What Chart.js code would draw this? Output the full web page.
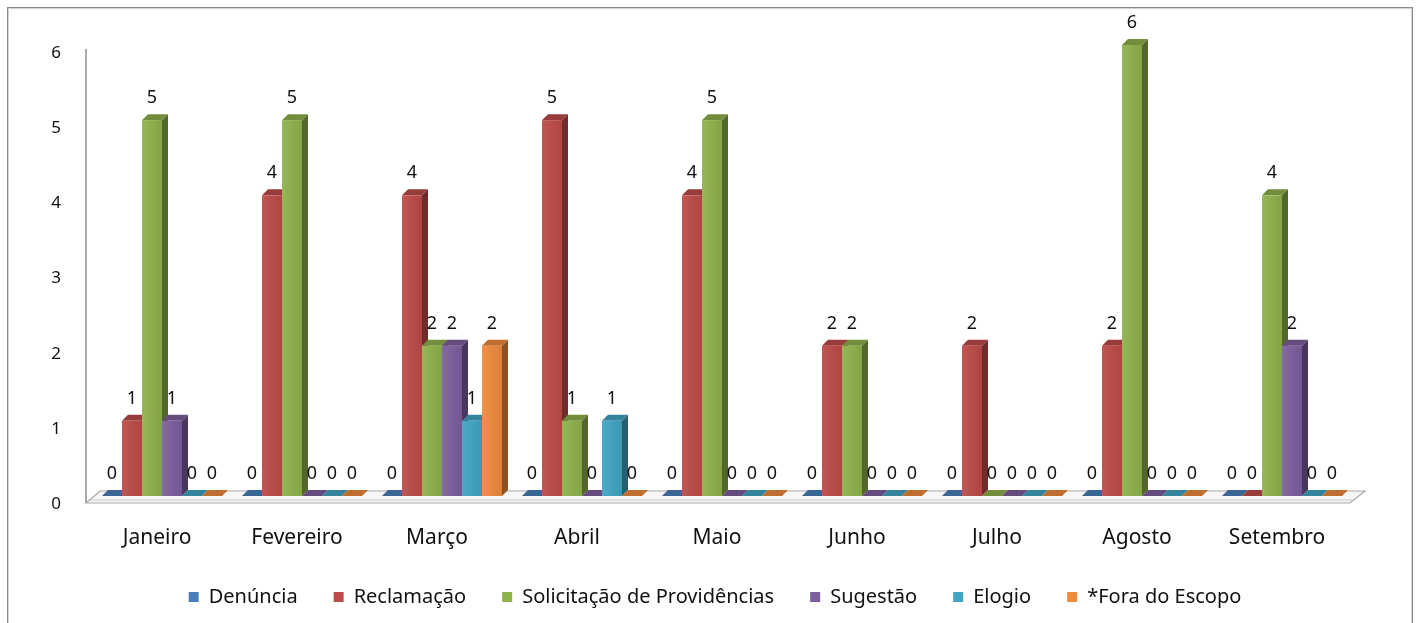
<!DOCTYPE html>
<html>
<head>
<meta charset="utf-8">
<script src="https://cdn.jsdelivr.net/npm/chart.js@4"></script>
<style>
html,body{margin:0;padding:0;background:#fff;overflow:hidden;}
#wrap{position:absolute;left:0;top:0;width:1419px;height:623px;}
#frame{position:absolute;left:7px;top:7px;width:1404px;height:640px;border:1px solid #8a8a8a;box-shadow:inset 0 0 0 1px #d4d4d4;pointer-events:none;}
</style>
</head>
<body>
<div id="wrap"><canvas id="grafico"></canvas></div>
<div id="frame"></div>
<script>
// dados
const meses = ['Janeiro','Fevereiro','Março','Abril','Maio','Junho','Julho','Agosto','Setembro'];
const denuncia    = [0,0,0,0,0,0,0,0,0];
const reclamacao  = [1,4,4,5,4,2,2,2,0];
const solicitacao = [5,5,2,1,5,2,0,6,4];
const sugestao    = [1,0,2,0,0,0,0,0,2];
const elogio      = [0,0,1,1,0,0,0,0,0];
const foraEscopo  = [0,0,2,0,0,0,0,0,0];
const series = ['Denúncia','Reclamação','Solicitação de Providências','Sugestão','Elogio','*Fora do Escopo'];
const eixoY = [0,1,2,3,4,5,6];

const cores = ['#4a7eba','#bd4b48','#8eb24a','#7d5f9f','#40a5c3','#f08a3c'];
const valores = [denuncia,reclamacao,solicitacao,sugestao,elogio,foraEscopo];

const fonte = "'Noto Sans', 'Open Sans', sans-serif";

function tom(hex, f){
  const n = parseInt(hex.slice(1),16);
  let r=(n>>16)&255, g=(n>>8)&255, b=n&255;
  if(f<1){ r*=f; g*=f; b*=f; }
  else { r=r+(255-r)*(f-1); g=g+(255-g)*(f-1); b=b+(255-b)*(f-1); }
  return 'rgb('+Math.round(r)+','+Math.round(g)+','+Math.round(b)+')';
}

const D = 6; // profundidade 3D

// chão e eixo vertical
const fundo3d = {
  id:'fundo3d',
  beforeDatasetsDraw(chart){
    const ctx = chart.ctx, a = chart.chartArea;
    const y0 = chart.scales.y.getPixelForValue(0);
    ctx.save();
    ctx.strokeStyle='#8c8c8c'; ctx.lineWidth=1.5;
    ctx.beginPath();
    ctx.moveTo(86, a.top+4); ctx.lineTo(86, y0+7);
    ctx.stroke();
    ctx.fillStyle='#f6f6f6';
    ctx.strokeStyle='#a8a8a8'; ctx.lineWidth=1.2;
    ctx.beginPath();
    ctx.moveTo(86, y0+7); ctx.lineTo(a.right-2, y0+7);
    ctx.lineTo(a.right+13, y0-5); ctx.lineTo(100, y0-5); ctx.closePath();
    ctx.fill(); ctx.stroke();
    ctx.strokeStyle='#c8c8c8';
    ctx.beginPath(); ctx.moveTo(88, y0+4); ctx.lineTo(a.right, y0+4); ctx.stroke();
    ctx.restore();
  }
};

// barras 3D + rótulos
const barras3d = {
  id:'barras3d',
  beforeDatasetDraw(){ return false; },
  afterDatasetsDraw(chart){
    const ctx = chart.ctx;
    const n = chart.data.labels.length;
    const ds = chart.data.datasets;
    ctx.save();
    for(let j=0;j<n;j++){
      for(let i=0;i<ds.length;i++){
        const el = chart.getDatasetMeta(i).data[j];
        const p = el.getProps(['x','y','base','width'], true);
        const x0 = p.x - p.width/2, x1 = p.x + p.width/2;
        const cor = ds[i].backgroundColor;
        // lateral
        ctx.fillStyle = tom(cor, 0.58);
        ctx.beginPath();
        ctx.moveTo(x1, p.y); ctx.lineTo(x1+D, p.y-D);
        ctx.lineTo(x1+D, p.base-D); ctx.lineTo(x1, p.base); ctx.closePath();
        ctx.fill();
        // topo
        ctx.fillStyle = tom(cor, 0.8);
        ctx.beginPath();
        ctx.moveTo(x0, p.y); ctx.lineTo(x1, p.y);
        ctx.lineTo(x1+D, p.y-D); ctx.lineTo(x0+D, p.y-D); ctx.closePath();
        ctx.fill();
        // frente
        const g = ctx.createLinearGradient(x0, 0, x1, 0);
        g.addColorStop(0, tom(cor, 1.06));
        g.addColorStop(1, tom(cor, 0.92));
        ctx.fillStyle = g;
        ctx.fillRect(x0, p.y, p.width, p.base-p.y);
      }
    }
    ctx.fillStyle='#111';
    ctx.font = '18px '+fonte;
    ctx.textAlign='center'; ctx.textBaseline='middle';
    for(let i=0;i<ds.length;i++){
      chart.getDatasetMeta(i).data.forEach((el,j)=>{
        const p = el.getProps(['x','y'], true);
        ctx.fillText(String(ds[i].data[j]), p.x, p.y-22);
      });
    }
    ctx.restore();
  }
};

const ctx_grafico = document.getElementById('grafico');
const grafico = new Chart(ctx_grafico, {
  type:'bar',
  data:{
    labels: meses,
    datasets: series.map((s,i)=>({
      label: s,
      data: valores[i],
      backgroundColor: cores[i],
      borderWidth: 0,
      categoryPercentage: 0.857,
      barPercentage: 1.0
    }))
  },
  options:{
    responsive:true,
    maintainAspectRatio:false,
    animation:false,
    events:[],
    layout:{ padding:{ left:11, right:0, top:45, bottom:6 } },
    scales:{
      x:{
        grid:{ display:false, drawTicks:false },
        border:{ display:false },
        ticks:{ color:'#111', font:{ family:fonte, size:21 }, padding:29, labelOffset:-5, maxRotation:0, autoSkip:false },
        afterFit(scale){ scale.height = 55; }
      },
      y:{
        min: eixoY[0], max: eixoY[eixoY.length-1],
        grid:{ display:false, drawTicks:false },
        border:{ display:false },
        ticks:{ stepSize:1, color:'#111', font:{ family:fonte, size:17 }, padding:31, labelOffset:8 },
        afterFit(scale){ scale.width = 81; }
      },
      lado:{
        position:'right',
        grid:{ display:false, drawTicks:false },
        border:{ display:false },
        ticks:{ display:false },
        afterFit(scale){ scale.width = 67; }
      }
    },
    plugins:{
      legend:{
        position:'bottom',
        labels:{ color:'#111', font:{ family:fonte, size:20 }, boxWidth:10, boxHeight:10, padding:36 }
      },
      tooltip:{ enabled:false }
    }
  },
  plugins:[fundo3d, barras3d]
});
</script>
</body>
</html>
